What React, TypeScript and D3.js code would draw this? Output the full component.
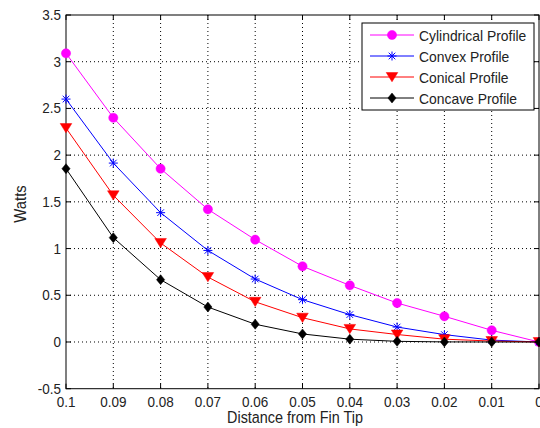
import React from "react";
import * as d3 from "d3";

const xValues = [0.1, 0.09, 0.08, 0.07, 0.06, 0.05, 0.04, 0.03, 0.02, 0.01, 0];
const cylindrical = [3.09, 2.4, 1.855, 1.42, 1.095, 0.81, 0.606, 0.417, 0.275, 0.125, 0];
const convex = [2.6, 1.915, 1.384, 0.98, 0.674, 0.453, 0.293, 0.16, 0.079, 0.02, 0];
const conical = [2.29, 1.57, 1.06, 0.695, 0.43, 0.26, 0.14, 0.08, 0.03, 0.01, 0];
const concave = [1.855, 1.117, 0.667, 0.374, 0.19, 0.086, 0.03, 0.007, 0.001, 0, 0];
const xTicks = [0.1, 0.09, 0.08, 0.07, 0.06, 0.05, 0.04, 0.03, 0.02, 0.01, 0];
const xTickLabels = ["0.1", "0.09", "0.08", "0.07", "0.06", "0.05", "0.04", "0.03", "0.02", "0.01", "0"];
const yTicks = [-0.5, 0, 0.5, 1, 1.5, 2, 2.5, 3, 3.5];
const yTickLabels = ["-0.5", "0", "0.5", "1", "1.5", "2", "2.5", "3", "3.5"];
const seriesNames = ["Cylindrical Profile", "Convex Profile", "Conical Profile", "Concave Profile"];

const series = [
  { name: seriesNames[0], values: cylindrical, color: "#ff00ff", marker: "circle" },
  { name: seriesNames[1], values: convex, color: "#0000ff", marker: "star" },
  { name: seriesNames[2], values: conical, color: "#ff0000", marker: "tri" },
  { name: seriesNames[3], values: concave, color: "#000000", marker: "diamond" },
];

const FONT = "'Liberation Sans', Arial, sans-serif";
const SY = 1.12;

function T({ x, y, anchor = "start", rotate = 0, fs = 13.5, sx = 1, children }: { x: number; y: number; anchor?: string; rotate?: number; fs?: number; sx?: number; children: any }) {
  return (
    <text
      transform={`translate(${x},${y}) rotate(${rotate}) scale(${sx},${SY})`}
      textAnchor={anchor}
      fontSize={fs}
      fill="#222"
      fontFamily={FONT}
    >
      {children}
    </text>
  );
}

function Marker({ type, x, y, color }: { type: string; x: number; y: number; color: string }) {
  if (type === "circle") return <circle cx={x} cy={y} r={4.6} fill={color} stroke={color} strokeWidth={0.5} />;
  if (type === "star") {
    const s = 4.5;
    const d = 3.3;
    return (
      <path
        d={`M${x - s},${y}H${x + s}M${x},${y - s}V${y + s}M${x - d},${y - d}L${x + d},${y + d}M${x - d},${y + d}L${x + d},${y - d}`}
        stroke={color}
        strokeWidth={1}
        fill="none"
      />
    );
  }
  if (type === "tri") {
    return <path d={`M${x - 5.8},${y - 4.5}L${x + 5.8},${y - 4.5}L${x},${y + 4.8}Z`} fill={color} stroke={color} strokeWidth={0.5} />;
  }
  return <path d={`M${x},${y - 5}L${x + 4.1},${y}L${x},${y + 5}L${x - 4.1},${y}Z`} fill={color} stroke={color} strokeWidth={0.5} />;
}

export default function App() {
  const W = 540, H = 428;
  const left = 66, right = 539, top = 15, bottom = 388.7;
  const x = d3.scaleLinear().domain([0.1, 0]).range([left, right]);
  const y = d3.scaleLinear().domain([-0.5, 3.5]).range([bottom, top]);
  const line = d3.line<number>().x((_, i) => x(xValues[i])).y((v) => y(v));
  const tickLen = 5;

  return (
    <svg width={W} height={H} style={{ position: "absolute", left: 0, top: 0, background: "#fff" }}>
      <rect x={0} y={0} width={W} height={H} fill="#fff" />
      {xTicks.slice(1, -1).map((t) => (
        <line key={"gx" + t} x1={x(t)} x2={x(t)} y1={top} y2={bottom} stroke="#000" strokeWidth={1} strokeDasharray="1,3" />
      ))}
      {yTicks.slice(1, -1).map((t) => (
        <line key={"gy" + t} x1={left} x2={right} y1={y(t)} y2={y(t)} stroke="#000" strokeWidth={1} strokeDasharray="1,3" />
      ))}
      {xTicks.map((t) => (
        <g key={"tx" + t}>
          <line x1={x(t)} x2={x(t)} y1={bottom} y2={bottom - tickLen} stroke="#000" />
          <line x1={x(t)} x2={x(t)} y1={top} y2={top + tickLen} stroke="#000" />
        </g>
      ))}
      {yTicks.map((t) => (
        <g key={"ty" + t}>
          <line x1={left} x2={left + tickLen} y1={y(t)} y2={y(t)} stroke="#000" />
          <line x1={right} x2={right - tickLen} y1={y(t)} y2={y(t)} stroke="#000" />
        </g>
      ))}
      <rect x={left} y={top} width={right - left} height={bottom - top} fill="none" stroke="#000" strokeWidth={1} />
      {xTicks.map((t, i) => (
        <T key={"lx" + t} x={x(t)} y={406.5} anchor="middle">{xTickLabels[i]}</T>
      ))}
      {yTicks.map((t, i) => (
        <T key={"ly" + t} x={61} y={y(t) + 5} anchor="end">{yTickLabels[i]}</T>
      ))}
      <T x={295} y={422.5} anchor="middle" fs={14.4}>Distance from Fin Tip</T>
      <T x={26} y={204} anchor="middle" rotate={-90} fs={14} sx={1.06}>Watts</T>
      {series.map((s) => (
        <g key={s.name}>
          <path d={line(s.values) || ""} fill="none" stroke={s.color} strokeWidth={1} />
          {s.values.map((v, i) => (
            <Marker key={i} type={s.marker} x={x(xValues[i])} y={y(v)} color={s.color} />
          ))}
        </g>
      ))}
      <rect x={362} y={23} width={172} height={87} fill="#fff" stroke="#000" strokeWidth={1} />
      {series.map((s, i) => {
        const ly = 35 + i * 21;
        return (
          <g key={"lg" + s.name}>
            <line x1={370} x2={414} y1={ly} y2={ly} stroke={s.color} strokeWidth={1} />
            <Marker type={s.marker} x={392} y={ly} color={s.color} />
            <T x={419} y={ly + 5.5} fs={13.9}>{s.name}</T>
          </g>
        );
      })}
    </svg>
  );
}
